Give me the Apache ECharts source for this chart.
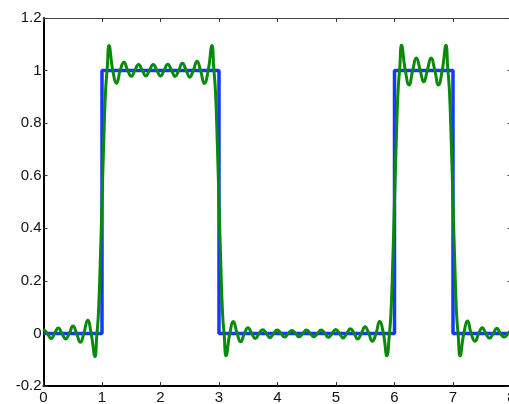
<!DOCTYPE html>
<html>
<head>
<meta charset="utf-8">
<script src="https://cdn.jsdelivr.net/npm/echarts@6/dist/echarts.min.js"></script>
<style>
  html, body { margin: 0; padding: 0; background: #fff; }
  #chart { width: 509px; height: 404px; }
</style>
</head>
<body>
<div id="chart"></div>
<script>
// Square pulse train (ideal signal)
const pulseX = [0, 1, 1, 3, 3, 6, 6, 7, 7, 8];
const pulseY = [0, 0, 1, 1, 0, 0, 1, 1, 0, 0];

// Truncated Fourier reconstruction, sampled at its extrema, crossings and along each edge
const approxX = [
  0.00, 0.065, 0.13, 0.19, 0.255, 0.315, 0.38, 0.44, 0.505, 0.565, 0.63, 0.69, 0.755, 0.815, 0.88,
  0.91, 0.94, 0.97, 1.00, 1.03, 1.06, 1.09,
  1.12, 1.185, 1.25, 1.31, 1.375, 1.44, 1.50, 1.56, 1.625, 1.69, 1.75, 1.81, 1.875, 1.94, 2.00,
  2.06, 2.125, 2.19, 2.25, 2.31, 2.375, 2.44, 2.50, 2.56, 2.625, 2.685, 2.75, 2.815, 2.88,
  2.91, 2.94, 2.97, 3.00, 3.03, 3.06, 3.09,
  3.12, 3.185, 3.245, 3.31, 3.37, 3.435, 3.495, 3.56, 3.62, 3.685, 3.745, 3.81, 3.87, 3.935, 3.995,
  4.06, 4.12, 4.185, 4.245, 4.31, 4.37, 4.435, 4.495, 4.56, 4.62, 4.685, 4.745, 4.81, 4.87, 4.935, 4.995,
  5.06, 5.12, 5.185, 5.245, 5.31, 5.37, 5.435, 5.495, 5.56, 5.62, 5.685, 5.745, 5.81, 5.87,
  5.91, 5.94, 5.97, 6.00, 6.03, 6.06, 6.09,
  6.12, 6.185, 6.25, 6.31, 6.375, 6.44, 6.50, 6.56, 6.625, 6.69, 6.75, 6.815, 6.88,
  6.91, 6.94, 6.97, 7.00, 7.03, 7.06, 7.09,
  7.12, 7.185, 7.25, 7.31, 7.375, 7.44, 7.50, 7.56, 7.625, 7.69, 7.75, 7.81, 7.875, 7.94, 8.00
];
const approxY = [
  0.015, 0, -0.020, 0, 0.021, 0, -0.021, 0, 0.028, 0, -0.034, 0, 0.050, 0, -0.088,
  -0.01, 0.08, 0.27, 0.5, 0.73, 0.92, 1.01,
  1.095, 1, 0.952, 1, 1.032, 1, 0.978, 1, 1.023, 1, 0.979, 1, 1.023, 1, 0.979,
  1, 1.024, 1, 0.978, 1, 1.028, 1, 0.975, 1, 1.035, 1, 0.951, 1, 1.095,
  1.01, 0.92, 0.73, 0.5, 0.27, 0.08, -0.01,
  -0.085, 0, 0.045, 0, -0.032, 0, 0.022, 0, -0.019, 0, 0.014, 0, -0.016, 0, 0.013,
  0, -0.014, 0, 0.011, 0, -0.013, 0, 0.013, 0, -0.013, 0, 0.013, 0, -0.015, 0, 0.015,
  0, -0.017, 0, 0.018, 0, -0.021, 0, 0.025, 0, -0.030, 0, 0.045, 0, -0.085,
  -0.01, 0.08, 0.27, 0.5, 0.73, 0.92, 1.01,
  1.096, 1, 0.945, 1, 1.048, 1, 0.957, 1, 1.048, 1, 0.945, 1, 1.096,
  1.01, 0.92, 0.73, 0.5, 0.27, 0.08, -0.01,
  -0.085, 0, 0.047, 0, -0.030, 0, 0.022, 0, -0.018, 0, 0.020, 0, -0.014, 0, 0.015
];

const pair = (xs, ys) => xs.map((x, i) => [x, ys[i]]);

const font = { fontFamily: 'Liberation Sans', fontSize: 15, color: '#111' };
const frameLine = { show: true, onZero: false, lineStyle: { color: '#000', width: 2 } };
const thinLine = { show: true, onZero: false, lineStyle: { color: '#444', width: 1.2 } };
const tickIn = { show: true, inside: true, length: 4, lineStyle: { color: '#333', width: 1 } };

const chart = echarts.init(document.getElementById('chart'), null, { renderer: 'canvas' });
chart.setOption({
  animation: false,
  backgroundColor: '#fff',
  grid: {
    left: 43.5, right: -2.5, top: 18, bottom: 18,
    containLabel: false, outerBoundsMode: 'none'
  },
  xAxis: [
    {
      type: 'value', min: 0, max: 8, interval: 1, position: 'bottom',
      axisLine: frameLine, axisTick: tickIn, splitLine: { show: false },
      axisLabel: Object.assign({ margin: 4 }, font)
    },
    {
      type: 'value', min: 0, max: 8, interval: 1, position: 'top',
      axisLine: thinLine, axisTick: tickIn, splitLine: { show: false },
      axisLabel: { show: false }
    }
  ],
  yAxis: [
    {
      type: 'value', min: -0.2, max: 1.2, interval: 0.2, position: 'left',
      axisLine: frameLine, axisTick: tickIn, splitLine: { show: false },
      axisLabel: Object.assign({ margin: 2 }, font)
    },
    {
      type: 'value', min: -0.2, max: 1.2, interval: 0.2, position: 'right',
      axisLine: thinLine, axisTick: tickIn, splitLine: { show: false },
      axisLabel: { show: false }
    }
  ],
  series: [
    {
      type: 'line', data: pair(pulseX, pulseY), showSymbol: false,
      lineStyle: { color: '#1538ff', width: 3.5 }, z: 2
    },
    {
      type: 'line', data: pair(approxX, approxY), showSymbol: false,
      smooth: 0.5,
      lineStyle: { color: '#0a8a0a', width: 3 }, z: 3
    }
  ]
});
</script>
</body>
</html>
